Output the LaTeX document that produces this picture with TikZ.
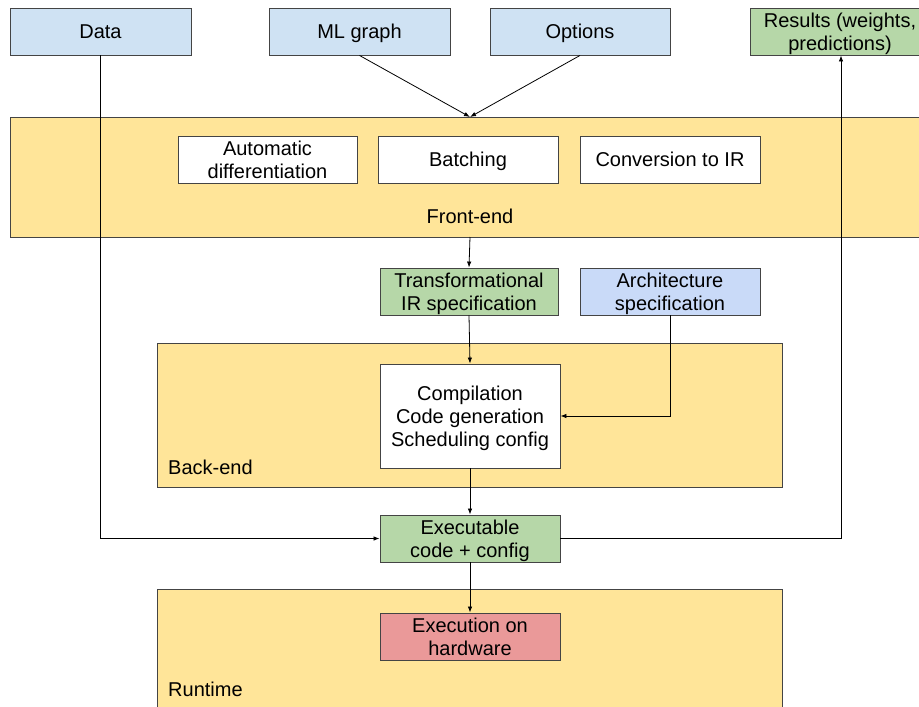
\documentclass[tikz,border=0pt]{standalone}
\usepackage{fontspec}
\setmainfont{Liberation Sans}
\usetikzlibrary{arrows.meta}
\definecolor{inblue}{HTML}{CFE2F3}
\definecolor{archblue}{HTML}{C9DAF8}
\definecolor{outgreen}{HTML}{B6D7A8}
\definecolor{stageyellow}{HTML}{FFE599}
\definecolor{hwred}{HTML}{EA9999}
\definecolor{edge}{HTML}{444444}
\begin{document}
\begin{tikzpicture}[x=1pt,y=-1pt,
  font=\fontsize{20}{23}\selectfont,
  box/.style={draw=edge,line width=0.9pt,inner sep=0pt,align=center,
    text depth=-2pt,minimum width=180pt,minimum height=47pt},
  stage/.style={draw=edge,line width=0.9pt,fill=stageyellow,inner sep=0pt},
  conn/.style={draw=black,line width=0.8pt,-{Latex[length=6pt,width=4.5pt]}}]
\useasboundingbox (0,0) rectangle (919,707);
\clip (0,0) rectangle (919,707);
\fill[white] (0,0) rectangle (919,707);

% stage containers
\node[stage,minimum width=930pt,minimum height=120pt] (front) at (475,177) {};
\node[stage,minimum width=625pt,minimum height=144pt] (back) at (469.5,415) {};
\node[stage,minimum width=625pt,minimum height=151pt] (run) at (469.5,664.5) {};
\node (frontlbl) at (470,216) {Front-end};
\node[anchor=west,inner sep=0pt] (backlbl) at (168,467) {Back-end};
\node[anchor=west,inner sep=0pt] (runlbl) at (168,689) {Runtime};

% inputs and results
\node[box,fill=inblue,minimum width=181pt] (data) at (100.5,31.5) {Data};
\node[box,fill=inblue,minimum width=181pt] (mlg) at (359.5,31.5) {ML graph};
\node[box,fill=inblue] (opt) at (580,31.5) {Options};
\node[box,fill=outgreen] (res) at (840,31.5) {Results (weights,\\predictions)};

% front-end steps
\node[box,fill=white,minimum width=179pt] (ad) at (267.5,159.5) {Automatic\\differentiation};
\node[box,fill=white] (bat) at (468,159.5) {Batching};
\node[box,fill=white] (conv) at (670,159.5) {Conversion to IR};

% intermediate specifications
\node[box,fill=outgreen,minimum width=178pt] (trans) at (469,291.5) {Transformational\\IR specification};
\node[box,fill=archblue] (arch) at (670,291.5) {Architecture\\specification};

% back-end, executable and runtime
\node[box,fill=white,minimum height=104pt] (comp) at (470,416) {Compilation\\Code generation\\Scheduling config};
\node[box,fill=outgreen] (exe) at (470,538.5) {Executable\\code + config};
\node[box,fill=hwred] (hw) at (470,636.5) {Execution on\\hardware};

% connectors
\coordinate (fin) at (470,117);
\coordinate (fout) at (470,237);
\draw[conn] (mlg.south) -- (fin);
\draw[conn] (opt.south) -- (fin);
\draw[conn] (fout) -- (trans.north);
\draw[conn] (trans.south) -- (comp.north);
\draw[conn] (arch.south) |- (comp.east);
\draw[conn] (comp.south) -- (exe.north);
\draw[conn] (exe.south) -- (hw.north);
\draw[conn] (data.south) |- (exe.west);
\draw[conn] (exe.east) -| ([xshift=1pt]res.south);
\end{tikzpicture}
\end{document}
